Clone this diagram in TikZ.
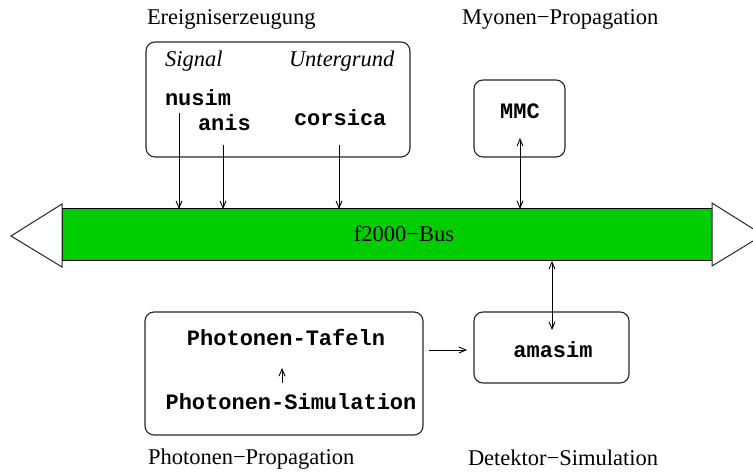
\documentclass[tikz,border=0pt]{standalone}
\usepackage{fontspec}
\setmainfont{Liberation Serif}
\setmonofont{Liberation Mono}
\usetikzlibrary{arrows.meta}
\definecolor{busgreen}{RGB}{0,205,0}
\begin{document}
\begin{tikzpicture}[x=1pt,y=-1pt,
  every node/.style={inner sep=0pt, outer sep=0pt},
  caption/.style={font=\fontsize{22.5}{26}\selectfont, anchor=base west},
  kind/.style={font=\fontsize{22.5}{26}\selectfont\itshape, anchor=base west},
  prog/.style={font=\fontsize{22}{26}\selectfont\ttfamily\bfseries},
  group/.style={draw=black!85, line width=1.1pt, rounded corners=9pt},
  bus/.style={draw=black, line width=1pt, fill=busgreen},
  busend/.style={draw=black!85, line width=1pt, fill=white},
  link/.style={line width=0.9pt, -{Straight Barb[length=7pt,width=6pt]}},
  duplex/.style={line width=0.9pt, {Straight Barb[length=7pt,width=6pt]}-{Straight Barb[length=7pt,width=6pt]}}]
\useasboundingbox (0,0) rectangle (753,473);

% section captions
\node[caption] (capgen) at (147,25) {Ereigniserzeugung};
\node[caption] (capmu) at (462,25) {Myonen\char"2212 Propagation};
\node[caption] (capph) at (148,464) {Photonen\char"2212 Propagation};
\node[caption] (capdet) at (468,465) {Detektor\char"2212 Simulation};

% event generation group
\node[group, minimum width=264pt, minimum height=115pt] (gen) at (278,99.5) {};
\node[kind] (sig) at (165,67) {Signal};
\node[kind] (bg) at (289,67) {Untergrund};
\node[prog, anchor=base west] (nusim) at (165,106) {nusim};
\node[prog, anchor=base west] (anis) at (198,131) {anis};
\node[prog, anchor=base west] (corsica) at (294,126) {corsica};

% muon propagation
\node[group, minimum width=91pt, minimum height=77pt] (mmcbox) at (519.5,118.5) {};
\node[prog, anchor=base] (mmc) at (520,119) {MMC};

% the bus with its open ends
\node[bus, minimum width=650pt, minimum height=52pt] (fbus) at (387,235) {};
\node[font=\fontsize{22.5}{26}\selectfont, anchor=base] (buslabel) at (404,242) {f2000\char"2212 Bus};
\draw[busend] (fbus.north west) ++(0,-5) -- (11,236) -- ++(51,31) -- cycle;
\draw[busend] (fbus.north east) ++(0,-6) -- (763,235) -- ++(-51,31) -- cycle;

% photon propagation group
\node[group, minimum width=278pt, minimum height=123pt] (phot) at (284,373.5) {};
\node[prog, anchor=base] (tables) at (286,345) {Photonen-Tafeln};
\node[prog, anchor=base] (photsim) at (291,409) {Photonen-Simulation};

% detector simulation
\node[group, minimum width=155pt, minimum height=71pt] (amabox) at (551.5,347.5) {};
\node[prog, anchor=base] (amasim) at (553,358) {amasim};

% connector end points
\coordinate (nusimtop) at (179,113);
\coordinate (anistop) at (223,145);
\coordinate (corstop) at (339,145);
\coordinate (mmcend) at (520,138);
\coordinate (amaend) at (552,330);
\coordinate (simtop) at (282,383);
\coordinate (tabbot) at (282,368);
\coordinate (photout) at (429,350);
\coordinate (amain) at (467,350);

% connectors
\draw[link] (nusimtop) -- (nusimtop |- fbus.north);
\draw[link] (anistop) -- (anistop |- fbus.north);
\draw[link] (corstop) -- (corstop |- fbus.north);
\draw[duplex] (mmcend |- fbus.north) -- (mmcend);
\draw[duplex] (amaend |- fbus.south) -- (amaend);
\draw[link] (simtop) -- (tabbot);
\draw[link] (photout) -- (amain);
\end{tikzpicture}
\end{document}
